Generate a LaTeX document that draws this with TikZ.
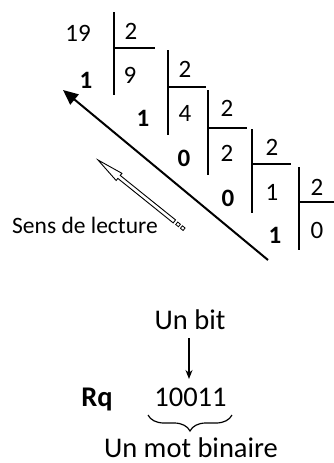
\documentclass[tikz,border=0pt]{standalone}
\usepackage{fontspec}
\setmainfont{Carlito}
\usetikzlibrary{arrows.meta,decorations.pathreplacing}
\begin{document}
\begin{tikzpicture}[x=1pt,y=-1pt,
  num/.style={anchor=base,inner sep=0pt,font=\fontsize{25}{29}\selectfont},
  rem/.style={num,font=\fontsize{25}{29}\selectfont\bfseries},
  lbl/.style={anchor=base west,inner sep=0pt,font=\fontsize{23.5}{28}\selectfont},
  big/.style={anchor=base,inner sep=0pt,font=\fontsize{28.5}{32}\selectfont},
  divline/.style={line width=1.7pt},
  readarrow/.style={line width=2pt,-{Triangle[length=15pt,width=13pt]}},
  pen/.style={line width=0.9pt,fill=white}]
\useasboundingbox (0,0) rectangle (334,463);
% row 0
\node[num] (n19) at (78,41.5) {19};
\node[num] (d0) at (131,39.5) {2};
\node[num] (q0) at (130,83.5) {9};
\node[rem] (r0) at (86,88.5) {1};
\draw[divline] (114,12) -- (114,95);
\draw[divline] (114,48) -- (155,48);
% row 1
\node[num] (d1) at (185,77) {2};
\node[num] (q1) at (185,121.5) {4};
\node[rem] (r1) at (143,126.5) {1};
\draw[divline] (168,50) -- (168,135);
\draw[divline] (168,87) -- (206,87);
% row 2
\node[num] (d2) at (227,116.5) {2};
\node[num] (q2) at (227,161.5) {2};
\node[rem] (r2) at (184,166.5) {0};
\draw[divline] (208,90) -- (208,175);
\draw[divline] (208,128) -- (247,128);
% row 3
\node[num] (d3) at (272,155) {2};
\node[num] (q3) at (272,200) {1};
\node[rem] (r3) at (228,206.5) {0};
\draw[divline] (252,129) -- (252,213);
\draw[divline] (252,164) -- (291,164);
% row 4
\node[num] (d4) at (317,195) {2};
\node[num] (q4) at (317,238.5) {0};
\node[rem] (r4) at (275,243.5) {1};
\draw[divline] (299,167) -- (299,250);
\draw[divline] (299,202) -- (334,202);
% reading arrow
\coordinate (ra) at (268,260);
\coordinate (rb) at (63,90);
\draw[readarrow] (ra) -- (rb);
% pen-like arrow
\begin{scope}[shift={(98,160)},rotate=-38.8]
  \draw[pen] (0,0) -- (27,4.6) -- (27,1.9) -- (98,1.9) -- (98,-1.9) -- (27,-1.9) -- (27,-4.6) -- cycle;
  \draw[pen,line width=0.8pt] (101,-1.6) rectangle (104.5,1.6);
  \draw[pen,line width=0.8pt] (107,-1.6) rectangle (110.5,1.6);
\end{scope}
\node[lbl] (sens) at (12,233) {Sens de lecture};
% bottom
\node[big] (bit) at (190,329) {Un bit};
\node[big] (word) at (190.5,406) {10011};
\node[big,font=\fontsize{28.5}{32}\selectfont\bfseries] (rq) at (97,406) {Rq};
\node[big] (mot) at (191,457) {Un mot binaire};
\coordinate (ba) at (189,338);
\coordinate (bb) at (189,379);
\draw[line width=1.3pt,-{Stealth[length=9pt,width=7pt]}] (ba) -- (bb);
\coordinate (bra) at (148,415);
\coordinate (brb) at (232,415);
\draw[line width=1.2pt,decorate,decoration={brace,mirror,amplitude=16pt}] (bra) -- (brb);
\end{tikzpicture}
\end{document}
